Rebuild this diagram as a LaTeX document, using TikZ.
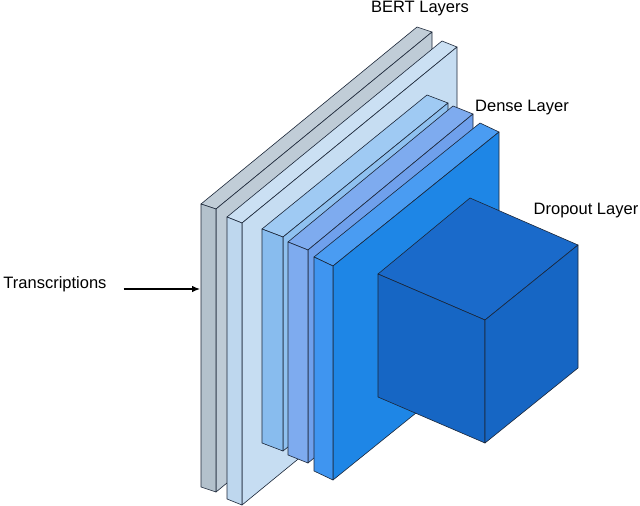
\documentclass[tikz,border=0pt]{standalone}
\usepackage{fontspec}
\setmainfont{Liberation Sans}
\usepackage{xcolor}
\usetikzlibrary{shapes,arrows,arrows.meta}
\definecolor{grayfront}{HTML}{B3C1CC}
\definecolor{graytop}{HTML}{C1CDD7}
\definecolor{grayside}{HTML}{BECBD6}
\definecolor{paletop}{HTML}{CBE0F3}
\definecolor{paleside}{HTML}{C6DDF2}
\definecolor{palefront}{HTML}{BED7EE}
\definecolor{skytop}{HTML}{9FCAF3}
\definecolor{skyside}{HTML}{8FC1F0}
\definecolor{skyfront}{HTML}{88BCEE}
\definecolor{periwinkle}{HTML}{6FA0EC}
\definecolor{periwinkletop}{HTML}{7EABEF}
\definecolor{densefront}{HTML}{3F95F0}
\definecolor{densetop}{HTML}{4A9CF2}
\definecolor{denseside}{HTML}{1E86E6}
\definecolor{cubeblue}{HTML}{1666C4}
\definecolor{cubetop}{HTML}{1A6ACA}
\definecolor{edge}{HTML}{1B2638}
\tikzstyle{face} = [draw=edge, line width=0.6pt, line join=round]
\tikzstyle{line} = [draw, line width=1.1pt, -{Latex[length=8pt,width=6.5pt]}]
\tikzstyle{label} = [font=\fontsize{16.5}{18}\selectfont, inner sep=0pt]

\begin{document}
\begin{tikzpicture}[x=1pt,y=-1pt]
\useasboundingbox (0,0) rectangle (640,506);
% BERT layer 1
\filldraw[face, fill=graytop] (201,204) -- (216,209) -- (432,32) -- (417,27) -- cycle;
\filldraw[face, fill=grayside] (216,209) -- (432,32) -- (432,315) -- (216,492) -- cycle;
\filldraw[face, fill=grayfront] (201,204) -- (216,209) -- (216,492) -- (201,487) -- cycle;
% BERT layer 2
\filldraw[face, fill=paletop] (227,217) -- (242,223) -- (457,47) -- (442,41) -- cycle;
\filldraw[face, fill=paleside] (242,223) -- (457,47) -- (457,329) -- (242,505) -- cycle;
\filldraw[face, fill=palefront] (227,217) -- (242,223) -- (242,505) -- (227,499) -- cycle;
% BERT layer 3
\filldraw[face, fill=skytop] (262,229) -- (283,237) -- (448,103) -- (427,95) -- cycle;
\filldraw[face, fill=skyside] (283,237) -- (448,103) -- (448,317) -- (283,451) -- cycle;
\filldraw[face, fill=skyfront] (262,229) -- (283,237) -- (283,451) -- (262,443) -- cycle;
% BERT layer 4
\filldraw[face, fill=periwinkletop] (288,242) -- (308,250) -- (473,114) -- (453,106) -- cycle;
\filldraw[face, fill=periwinkle] (308,250) -- (473,114) -- (473,327) -- (308,463) -- cycle;
\filldraw[face, fill=periwinkletop] (288,242) -- (308,250) -- (308,463) -- (288,455) -- cycle;
% dense layer
\filldraw[face, fill=densetop] (314,257) -- (333,266) -- (499,132) -- (480,123) -- cycle;
\filldraw[face, fill=denseside] (333,266) -- (499,132) -- (499,346) -- (333,480) -- cycle;
\filldraw[face, fill=densefront] (314,257) -- (333,266) -- (333,480) -- (314,471) -- cycle;
% dropout cube
\filldraw[face, fill=cubetop] (378,274) -- (485,320) -- (578,245) -- (470,198) -- cycle;
\filldraw[face, fill=cubeblue] (378,274) -- (485,320) -- (485,443) -- (378,397) -- cycle;
\filldraw[face, fill=cubeblue] (485,320) -- (578,245) -- (578,368) -- (485,443) -- cycle;
%
\node[label] (bert) at (420,9) {BERT Layers};
\node[label] (dense) at (522,108) {Dense Layer};
\node[label] (dropout) at (586,211) {Dropout Layer};
\node[label] (trans) at (55,284) {Transcriptions};
\coordinate (slabin) at (200,289);
\draw[line] ([xshift=17pt,yshift=-5pt]trans.east) -- (slabin);
\end{tikzpicture}
\end{document}
